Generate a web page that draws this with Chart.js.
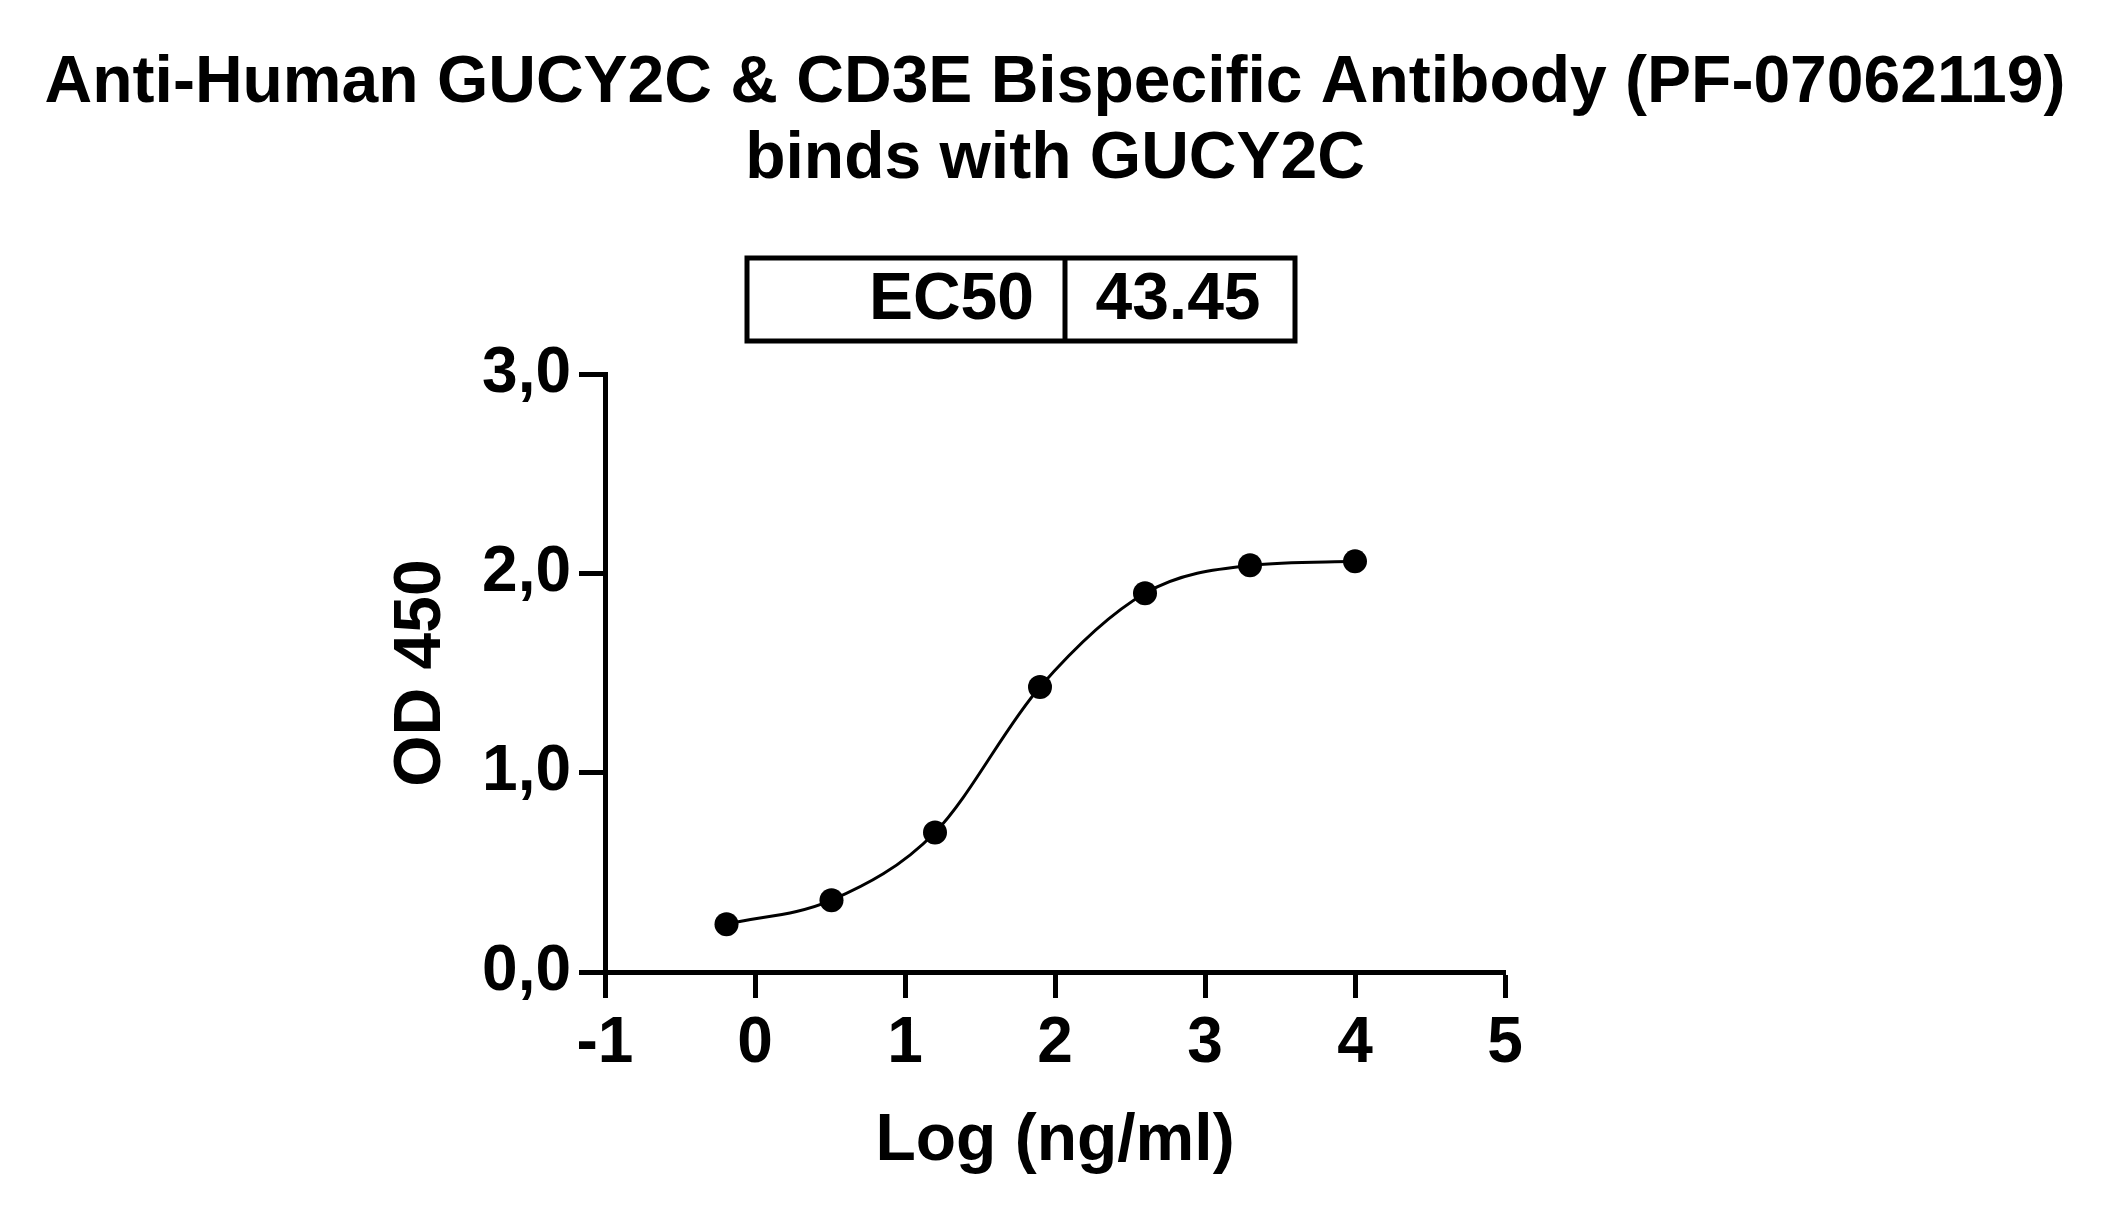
<!DOCTYPE html>
<html>
<head>
<meta charset="utf-8">
<title>GUCY2C binding</title>
<script src="https://cdn.jsdelivr.net/npm/chart.js@4.4.1/dist/chart.umd.min.js"></script>
<style>
  html, body { margin: 0; padding: 0; background: #fff; }
  #wrap { width: 2112px; height: 1220px; }
</style>
</head>
<body>
<div id="wrap"><canvas id="myChart" width="2112" height="1220"></canvas></div>
<script>
'use strict';

// data
var logConc = [-0.19, 0.51, 1.20, 1.90, 2.60, 3.30, 4.00];
var od450 = [0.24, 0.36, 0.70, 1.43, 1.90, 2.04, 2.06];
var titleLines = ['Anti-Human GUCY2C & CD3E Bispecific Antibody (PF-07062119)', 'binds with GUCY2C'];
var ec50Label = 'EC50';
var ec50Value = '43.45';

var FONT = '"Liberation Sans", Arial, sans-serif';

var points = logConc.map(function(x, i) {
  return { x: x, y: od450[i] };
});

// title and EC50 table drawn above the plot
var headerPlugin = {
  id: 'header',
  afterDraw: function(chart) {
    var ctx = chart.ctx;
    var area = chart.chartArea;
    var cx = (area.left + area.right) / 2;
    ctx.save();
    ctx.fillStyle = '#000';
    ctx.textBaseline = 'middle';
    ctx.textAlign = 'center';
    ctx.font = 'bold 66px ' + FONT;
    titleLines.forEach(function(line, i) {
      ctx.fillText(line, cx, 84 + i * 76);
    });

    //EC50 box
    ctx.lineWidth = 5;
    ctx.strokeStyle = '#000';
    ctx.strokeRect(747, 258, 548, 83);
    ctx.beginPath();
    ctx.moveTo(1065, 258);
    ctx.lineTo(1065, 341);
    ctx.stroke();
    ctx.font = 'bold 66px ' + FONT;
    ctx.textAlign = 'right';
    ctx.fillText(ec50Label, 1034, 301);
    ctx.textAlign = 'center';
    ctx.fillText(ec50Value, 1178, 301);
    ctx.restore();
  }
};

var ctx = document.getElementById('myChart').getContext('2d');

var chart = new Chart(ctx, {
  type: 'scatter',
  data: {
    datasets: [{
      label: 'OD 450',
      data: points,
      showLine: true,
      cubicInterpolationMode: 'monotone',
      borderColor: '#000',
      backgroundColor: '#000',
      borderWidth: 3,
      pointRadius: 12,
      pointBorderWidth: 0,
      pointBackgroundColor: '#000',
      clip: false
    }]
  },
  options: {
    responsive: false,
    animation: false,
    devicePixelRatio: 1,
    layout: {
      padding: { left: 389, right: 607, top: 374, bottom: 45 }
    },
    plugins: {
      legend: { display: false },
      title: { display: false },
      tooltip: { enabled: false }
    },
    scales: {
      x: {
        type: 'linear',
        min: -1,
        max: 5,
        afterFit: function(scale) { scale.height = 203; },
        ticks: {
          stepSize: 1,
          color: '#000',
          padding: 14,
          font: { family: FONT, size: 64, weight: 'bold', lineHeight: 1 }
        },
        grid: {
          drawOnChartArea: false,
          tickLength: 26,
          tickWidth: 5,
          tickColor: '#000'
        },
        border: { display: true, color: '#000', width: 5 },
        title: {
          display: true,
          text: 'Log (ng/ml)',
          color: '#000',
          padding: 0,
          font: { family: FONT, size: 66, weight: 'bold', lineHeight: 1 }
        }
      },
      y: {
        type: 'linear',
        min: 0,
        max: 3,
        afterFit: function(scale) { scale.width = 216; },
        ticks: {
          stepSize: 1,
          color: '#000',
          padding: 8,
          font: { family: FONT, size: 64, weight: 'bold', lineHeight: 1 },
          callback: function(value) {
            return value.toFixed(1).replace('.', ',');
          }
        },
        grid: {
          drawOnChartArea: false,
          tickLength: 26,
          tickWidth: 5,
          tickColor: '#000'
        },
        border: { display: true, color: '#000', width: 5 },
        title: {
          display: true,
          text: 'OD 450',
          color: '#000',
          padding: 0,
          font: { family: FONT, size: 66, weight: 'bold', lineHeight: 1 }
        }
      }
    }
  },
  plugins: [headerPlugin]
});
</script>
</body>
</html>
